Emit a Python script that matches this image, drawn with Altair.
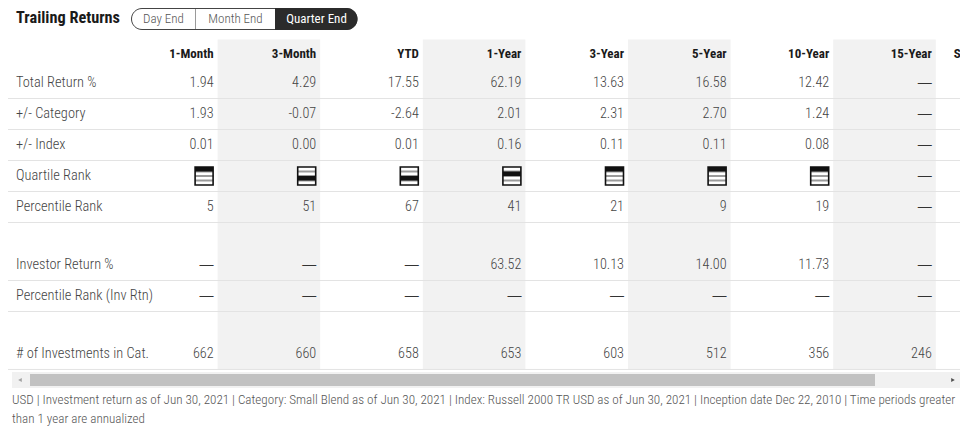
import altair as alt
import pandas as pd

# ---------------- data ----------------
title_text = "Trailing Returns"
toggle_labels = ["Day End", "Month End", "Quarter End"]
columns = ["1-Month", "3-Month", "YTD", "1-Year", "3-Year", "5-Year", "10-Year", "15-Year", "Since Inception"]
shaded_columns = ["3-Month", "1-Year", "5-Year", "15-Year"]

total_return = [1.94, 4.29, 17.55, 62.19, 13.63, 16.58, 12.42, None]
plus_category = [1.93, -0.07, -2.64, 2.01, 2.31, 2.70, 1.24, None]
plus_index = [0.01, 0.00, 0.01, 0.16, 0.11, 0.11, 0.08, None]
quartile_rank = [1, 3, 3, 2, 1, 1, 1, None]
percentile_rank = [5, 51, 67, 41, 21, 9, 19, None]
investor_return = [None, None, None, 63.52, 10.13, 14.00, 11.73, None]
percentile_rank_inv = [None, None, None, None, None, None, None, None]
n_investments = [662, 660, 658, 653, 603, 512, 356, 246]

footer_lines = [
    "USD | Investment return as of Jun 30, 2021 |  Category: Small Blend as of Jun 30, 2021 |  Index: Russell 2000 TR USD as of Jun 30, 2021 |  Inception date Dec 22, 2010 |  Time periods greater",
    "than 1 year are annualized",
]

# rows: (label, values, decimals); None label = spacer
rows = [
    ("__header__", None, None),
    ("Total Return %", total_return, 2),
    ("+/- Category", plus_category, 2),
    ("+/- Index", plus_index, 2),
    ("Quartile Rank", quartile_rank, "icon"),
    ("Percentile Rank", percentile_rank, 0),
    (None, None, None),
    ("Investor Return %", investor_return, 2),
    ("Percentile Rank (Inv Rtn)", percentile_rank_inv, 0),
    (None, None, None),
    ("# of Investments in Cat.", n_investments, 0),
]

# ---------------- layout / style constants ----------------
FONT = "Roboto Condensed, Archivo Narrow, sans-serif"
W, H = 952, 420
HEADER_H, ROW_H, SPACER_H = 0.9, 1.0, 0.87
UNIT_PX = 31.0
Y_TOP = 31.6
COL_LEFT, COL_W = 107.0, 102.6
SHADE = "#f2f2f2"
TXT = "#444444"

# row geometry (in row units)
row_top, row_bottom, row_center = [], [], []
pos = 0.0
for label, _, _ in rows:
    h = HEADER_H if label == "__header__" else (SPACER_H if label is None else ROW_H)
    row_top.append(pos)
    row_center.append(pos + h / 2)
    pos += h
    row_bottom.append(pos)
total_units = pos

xs = alt.Scale(domain=[0, len(columns)], range=[COL_LEFT, COL_LEFT + COL_W * len(columns)], nice=False, zero=False)
ys = alt.Scale(domain=[0, total_units], range=[Y_TOP, Y_TOP + UNIT_PX * total_units], nice=False, zero=False)

def fmt(v, d):
    if v is None:
        return "\u2014"
    return f"{v:.{d}f}"

cells, dashes, labels, lines, icons, shades = [], [], [], [], [], []
for ri, (label, vals, d) in enumerate(rows):
    if label == "__header__" or label is None:
        continue
    labels.append({"label": label, "yc": row_center[ri]})
    lines.append({"yb": row_bottom[ri]})
    for k, v in enumerate(vals):
        if v is None:
            dashes.append({"k": k + 1, "yc": row_center[ri], "text": "\u2014"})
        elif d == "icon":
            y0 = -1 + (v - 1) * 0.5
            y1 = y0 + 0.5
            icons.append({"k": k + 1, "yc": row_center[ri],
                          "band": f"M -1 {y0} H 1 V {y1} H -1 Z"})
        else:
            cells.append({"k": k + 1, "yc": row_center[ri], "text": fmt(v, d)})

headers = [{"k": k + 1, "yc": row_center[0], "text": c} for k, c in enumerate(columns)]
for c in shaded_columns:
    k = columns.index(c)
    shades.append({"x0": k, "x1": k + 1, "y0": 0, "y1": total_units})

cells_df = pd.DataFrame(cells)
dashes_df = pd.DataFrame(dashes)
labels_df = pd.DataFrame(labels)
lines_df = pd.DataFrame(lines)
icons_df = pd.DataFrame(icons)
headers_df = pd.DataFrame(headers)
shades_df = pd.DataFrame(shades)

# ---------------- table layers ----------------
shade_layer = alt.Chart(shades_df).mark_rect(color=SHADE).encode(
    x=alt.X("x0:Q", scale=xs, axis=None), x2="x1:Q",
    y=alt.Y("y0:Q", scale=ys, axis=None), y2="y1:Q",
)

line_layer = alt.Chart(lines_df).mark_rule(color="#e3e3e3", strokeWidth=1).encode(
    y=alt.Y("yb:Q", scale=ys, axis=None),
    x=alt.value(0), x2=alt.value(W),
)

header_layer = alt.Chart(headers_df).mark_text(
    align="right", baseline="middle", dx=-4, font=FONT, fontSize=13, fontWeight="bold", color="#1a1a1a", clip=True
).encode(
    x=alt.X("k:Q", scale=xs, axis=None), y=alt.Y("yc:Q", scale=ys, axis=None), text="text:N"
)

label_layer = alt.Chart(labels_df).mark_text(
    align="left", baseline="middle", font=FONT, fontSize=14.4, fontWeight=300, color=TXT
).encode(
    x=alt.value(8), y=alt.Y("yc:Q", scale=ys, axis=None), text="label:N"
)

value_layer = alt.Chart(cells_df).mark_text(
    align="right", baseline="middle", dx=-4, font=FONT, fontSize=14.2, fontWeight=300, color=TXT, clip=True
).encode(
    x=alt.X("k:Q", scale=xs, axis=None), y=alt.Y("yc:Q", scale=ys, axis=None), text="text:N"
)

dash_layer = alt.Chart(dashes_df).mark_text(
    align="right", baseline="middle", dx=-4, font="Liberation Sans, sans-serif", fontSize=14, color="#333333", clip=True
).encode(
    x=alt.X("k:Q", scale=xs, axis=None), y=alt.Y("yc:Q", scale=ys, axis=None), text="text:N"
)

ICON_SIZE = 18 * 18
ICON_DX = -13.5
icon_base = alt.Chart(icons_df).encode(
    x=alt.X("k:Q", scale=xs, axis=None), y=alt.Y("yc:Q", scale=ys, axis=None)
)
icon_bg = icon_base.mark_point(shape="square", size=ICON_SIZE, filled=True, fill="white",
                               stroke="white", strokeWidth=0, xOffset=ICON_DX, opacity=1)
icon_sep = icon_base.mark_point(shape="M -1 -0.5 H 1 M -1 0 H 1 M -1 0.5 H 1", size=ICON_SIZE,
                                filled=False, stroke="#9a9a9a", strokeWidth=2, xOffset=ICON_DX, opacity=1)
icon_band = icon_base.mark_point(size=ICON_SIZE, filled=True, fill="#111111", strokeWidth=0,
                                 xOffset=ICON_DX, opacity=1).encode(
    shape=alt.Shape("band:N", scale=None, legend=None)
)
icon_box = icon_base.mark_point(shape="square", size=ICON_SIZE, filled=False, stroke="#111111",
                                strokeWidth=1.6, xOffset=ICON_DX, opacity=1)

# ---------------- title & toggle ----------------
title_layer = alt.Chart(pd.DataFrame({"t": [title_text]})).mark_text(
    align="left", baseline="middle", font=FONT, fontSize=16.3, fontWeight="bold", color="#1a1a1a"
).encode(x=alt.value(8), y=alt.value(10), text="t:N")

pill = alt.Chart(pd.DataFrame({"a": [0]})).mark_rect(
    fill="white", stroke="#444444", strokeWidth=1, cornerRadius=11
).encode(x=alt.value(123.5), x2=alt.value(349), y=alt.value(0.5), y2=alt.value(21.5))

pill_sel = alt.Chart(pd.DataFrame({"a": [0]})).mark_rect(
    fill="#2b2b2b", cornerRadiusTopRight=11, cornerRadiusBottomRight=11
).encode(x=alt.value(267), x2=alt.value(349.5), y=alt.value(0), y2=alt.value(22))

pill_div = alt.Chart(pd.DataFrame({"a": [0]})).mark_rule(color="#9a9a9a").encode(
    x=alt.value(187.5), y=alt.value(1), y2=alt.value(21)
)

toggle_layers = []
for i, (t, cx) in enumerate(zip(toggle_labels, [155.5, 227.5, 308.5])):
    toggle_layers.append(
        alt.Chart(pd.DataFrame({"t": [t]})).mark_text(
            align="center", baseline="middle", font=FONT, fontSize=13,
            fontWeight=(400 if i == 2 else 300),
            color=("white" if i == 2 else "#555555")
        ).encode(x=alt.value(cx), y=alt.value(11), text="t:N")
    )

# ---------------- scrollbar ----------------
track = alt.Chart(pd.DataFrame({"a": [0]})).mark_rect(fill="#f1f1f1").encode(
    x=alt.value(4), x2=alt.value(W), y=alt.value(364), y2=alt.value(380)
)
thumb = alt.Chart(pd.DataFrame({"a": [0]})).mark_rect(fill="#c1c1c1").encode(
    x=alt.value(22), x2=alt.value(867), y=alt.value(366), y2=alt.value(378)
)
arrow_l = alt.Chart(pd.DataFrame({"a": [0]})).mark_point(
    shape="triangle-left", size=18, filled=True, color="#a3a3a3", opacity=1
).encode(x=alt.value(12), y=alt.value(372))
arrow_r = alt.Chart(pd.DataFrame({"a": [0]})).mark_point(
    shape="triangle-right", size=18, filled=True, color="#505050", opacity=1
).encode(x=alt.value(945), y=alt.value(372))

# ---------------- footer ----------------
footer_layers = []
for i, t in enumerate(footer_lines):
    footer_layers.append(
        alt.Chart(pd.DataFrame({"t": [t]})).mark_text(
            align="left", baseline="middle", font=FONT, fontSize=13.1, fontWeight=300, color="#555555"
        ).encode(x=alt.value(4), y=alt.value(392 + 19 * i), text="t:N")
    )

chart = alt.layer(
    shade_layer, line_layer, header_layer, label_layer, value_layer, dash_layer,
    icon_bg, icon_sep, icon_band, icon_box,
    title_layer, pill, pill_sel, pill_div, *toggle_layers,
    track, thumb, arrow_l, arrow_r, *footer_layers,
).properties(
    width=W, height=H, padding=0, autosize=alt.AutoSizeParams(type="none")
).configure_view(stroke=None)

chart.save("out.html", embed_options={"renderer": "svg", "actions": False})
